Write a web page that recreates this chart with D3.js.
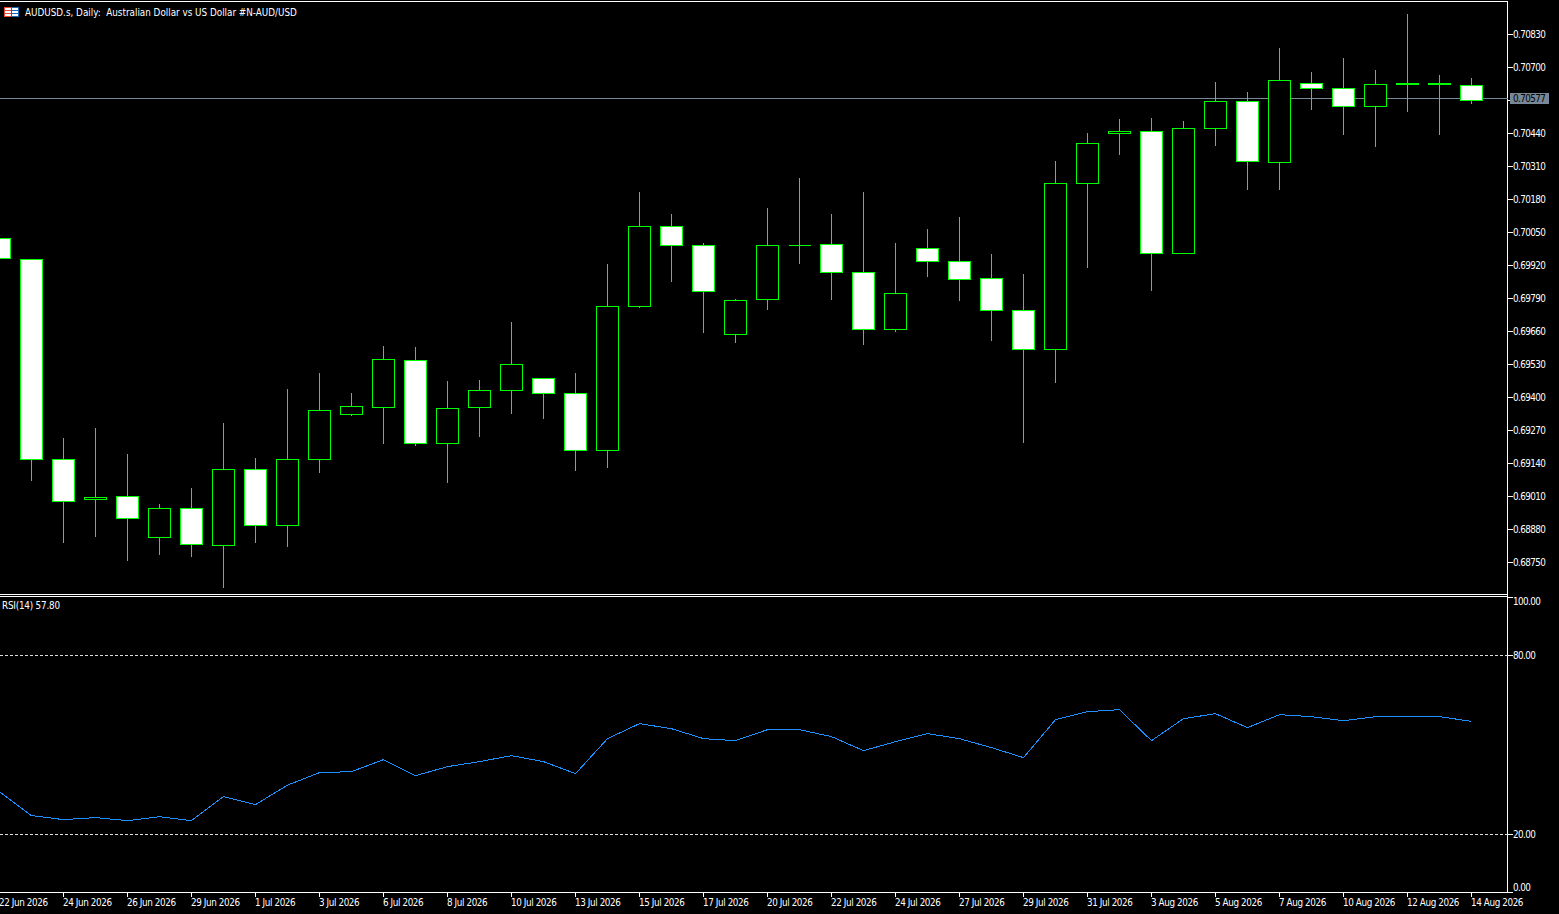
<!DOCTYPE html>
<html><head><meta charset="utf-8">
<style>
html,body{margin:0;padding:0;background:#000;overflow:hidden}
svg{display:block}
text{font-family:"DejaVu Sans Condensed","DejaVu Sans",sans-serif;font-stretch:condensed;font-size:9.8px;fill:#fff}
text.num{letter-spacing:-0.6px}
text.date{letter-spacing:-0.4px}
text.rsit{letter-spacing:-0.2px}
</style>
<script src="https://cdn.jsdelivr.net/npm/d3@7/dist/d3.min.js"></script>
</head><body><svg id="c" width="1559" height="914"></svg>
<script>
const open_=[.700265,.699438,.691560,.689984,.690103,.688488,.689630,.688172,.691166,.688960,.691560,.693333,.693608,.695460,.692190,.693608,.694278,.694751,.694160,.691914,.697587,.700738,.699989,.696484,.697862,.699989,.700029,.698926,.696681,.699871,.699359,.698690,.697429,.695893,.702432,.704401,.704480,.699674,.704598,.705662,.703259,.706371,.706174,.705465,.706331,.706331,.706292];
const high_=[.700265,.699438,.692387,.692781,.691757,.689787,.690418,.692978,.691599,.694317,.694948,.694160,.696011,.695972,.694632,.694672,.696956,.694751,.694948,.699241,.702077,.701211,.700068,.697862,.701447,.702629,.701211,.702077,.700068,.700620,.701092,.699635,.698847,.703298,.704401,.704953,.704992,.704874,.706410,.706016,.707749,.706804,.707355,.706883,.709089,.706686,.706568];
const low_=[.699477,.690733,.688291,.688527,.687582,.687818,.687739,.686518,.688291,.688133,.691048,.693293,.692190,.692111,.690654,.692466,.693372,.693175,.691127,.691245,.697547,.698571,.696563,.696169,.697468,.699280,.697862,.696090,.696602,.698768,.697823,.696247,.692230,.694593,.699123,.703574,.698217,.699674,.703928,.702195,.702195,.705346,.704362,.703889,.705268,.704362,.705583];
const close_=[.699477,.691560,.689906,.690063,.689236,.689630,.688212,.691166,.688960,.691560,.693490,.693648,.695499,.692190,.693569,.694278,.695302,.694160,.691914,.697587,.700738,.699989,.698178,.697823,.699989,.699989,.698926,.696681,.698099,.699359,.698650,.697429,.695893,.702432,.704007,.704480,.699674,.704598,.705662,.703298,.706489,.706174,.705465,.706331,.706371,.706371,.705701];
const rsi=[34.27,26.24,24.90,25.57,24.56,25.90,24.56,32.60,29.92,36.45,40.63,40.96,44.98,39.62,42.64,44.31,46.32,44.31,40.29,52.01,57.03,55.35,52.01,51.34,55.02,55.02,52.68,47.99,51.00,53.68,52.01,49.00,45.65,58.37,61.04,61.71,51.34,58.70,60.37,55.69,60.04,59.37,58.03,59.37,59.37,59.37,57.80];
const priceTicks=[.70830,.70700,.70570,.70440,.70310,.70180,.70050,.69920,.69790,.69660,.69530,.69400,.69270,.69140,.69010,.68880,.68750];
const rsiTicks=[100,80,20,0];
const rsiLevels=[80,20];
const timeLabels=["22 Jun 2026","24 Jun 2026","26 Jun 2026","29 Jun 2026","1 Jul 2026","3 Jul 2026","6 Jul 2026","8 Jul 2026","10 Jul 2026","13 Jul 2026","15 Jul 2026","17 Jul 2026","20 Jul 2026","22 Jul 2026","24 Jul 2026","27 Jul 2026","29 Jul 2026","31 Jul 2026","3 Aug 2026","5 Aug 2026","7 Aug 2026","10 Aug 2026","12 Aug 2026","14 Aug 2026"];
const bid=0.70577;
const title="AUDUSD.s, Daily:\u00a0\u00a0Australian Dollar vs US Dollar #N-AUD/USD";
const rsiTitle="RSI(14) 57.80";

const GREEN="#00ff00", WHITE="#fff", GREY="#778899", BLUE="#1e90ff";
const svg=d3.select("#c");
const R=1507.5, idx=d3.range(open_.length);
const x=d3.scaleLinear().domain([0,46]).range([-0.5,1471.5]);
const y=d3.scaleLinear().domain([.6875,.7083]).range([562.5,34.5]);
const yr=d3.scaleLinear().domain([0,100]).range([894.0,595.3]);
const snap=v=>Math.round(v-0.5)+0.5;
const crisp=g=>g.attr("shape-rendering","crispEdges");

// frame
const frame=crisp(svg.append("g")).attr("stroke",WHITE).attr("stroke-width",1);
[[0,1.5,R,1.5],[0,594.5,R,594.5],[0,596.5,R,596.5],[0,892.5,R,892.5],[R,1,R,893]].forEach(l=>
  frame.append("line").attr("x1",l[0]).attr("y1",l[1]).attr("x2",l[2]).attr("y2",l[3]));

// bid line (behind candles)
crisp(svg.append("line")).attr("x1",0).attr("x2",R).attr("y1",snap(y(bid))).attr("y2",snap(y(bid))).attr("stroke",GREY);

// candles
const cg=crisp(svg.append("g"));
cg.selectAll("line.w").data(idx).join("line").attr("class","w")
  .attr("x1",i=>x(i)).attr("x2",i=>x(i))
  .attr("y1",i=>snap(y(high_[i]))-0.5).attr("y2",i=>snap(y(low_[i]))+0.5).attr("stroke",GREEN);
cg.selectAll("path.b").data(idx).join("path").attr("class","b")
  .attr("d",i=>{
    const t=snap(y(Math.max(open_[i],close_[i]))), b=snap(y(Math.min(open_[i],close_[i])));
    const p=d3.path();
    p.moveTo(x(i)-11,t);p.lineTo(x(i)+11,t);p.lineTo(x(i)+11,b);p.lineTo(x(i)-11,b);p.closePath();
    return p.toString();
  })
  .attr("fill",i=>close_[i]<open_[i]?WHITE:"#000").attr("stroke",GREEN);

// price axis
const pt=svg.append("g").selectAll("g").data(priceTicks).join("g");
crisp(pt.append("line")).attr("x1",R).attr("x2",R+5).attr("y1",d=>snap(y(d))).attr("y2",d=>snap(y(d))).attr("stroke",WHITE);
pt.append("text").attr("class","num").attr("x",1513).attr("y",d=>snap(y(d))+3.5).text(d=>d.toFixed(5));
// bid label
crisp(svg.append("rect")).attr("x",1510).attr("y",snap(y(bid))-5.5).attr("width",39).attr("height",11).attr("fill",GREY);
svg.append("text").attr("class","num").attr("x",1513).attr("y",snap(y(bid))+3.5).style("fill","#000").text(bid.toFixed(5));

// rsi
const lv=crisp(svg.append("g"));
lv.selectAll("line").data(rsiLevels).join("line").attr("x1",0).attr("x2",R)
  .attr("y1",d=>snap(yr(d))).attr("y2",d=>snap(yr(d))).attr("stroke","#ddd").attr("stroke-dasharray","3,2");
const rt=svg.append("g").selectAll("g").data(rsiTicks).join("g");
const ry=d=>Math.min(892.5,Math.max(597.5,snap(yr(d))));
crisp(rt.append("line")).attr("x1",R).attr("x2",R+5).attr("y1",ry).attr("y2",ry).attr("stroke",WHITE);
rt.append("text").attr("class","num").attr("x",1513).attr("y",d=>d===100?605:d===0?891:snap(yr(d))+3.5).text(d=>d.toFixed(2));
const line=d3.line().x((d,i)=>x(i)).y(d=>yr(d));
crisp(svg.append("path")).datum(rsi).attr("d",line).attr("fill","none").attr("stroke",BLUE);

// time axis
const ta=svg.append("g").selectAll("g").data(timeLabels).join("g");
crisp(ta.append("line")).attr("x1",(d,i)=>x(i*2)).attr("x2",(d,i)=>x(i*2)).attr("y1",893).attr("y2",897).attr("stroke",WHITE);
ta.append("text").attr("class","date").attr("x",(d,i)=>x(i*2)-0.5).attr("y",906).text(d=>d);

// header
const ic=crisp(svg.append("g"));
ic.append("rect").attr("x",4.5).attr("y",7.5).attr("width",7).attr("height",9).attr("fill","#fff").attr("stroke","#e8483a");
ic.append("rect").attr("x",11.5).attr("y",7.5).attr("width",7).attr("height",9).attr("fill","#fff").attr("stroke","#1668b8");
[10.5,13.5].forEach(v=>{
  ic.append("line").attr("x1",5).attr("x2",11).attr("y1",v).attr("y2",v).attr("stroke","#e8483a");
  ic.append("line").attr("x1",12).attr("x2",18).attr("y1",v).attr("y2",v).attr("stroke","#1668b8");
});
svg.append("text").attr("x",25).attr("y",15.5).text(title);
svg.append("text").attr("class","rsit").attr("x",2).attr("y",609).text(rsiTitle);
</script></body></html>
